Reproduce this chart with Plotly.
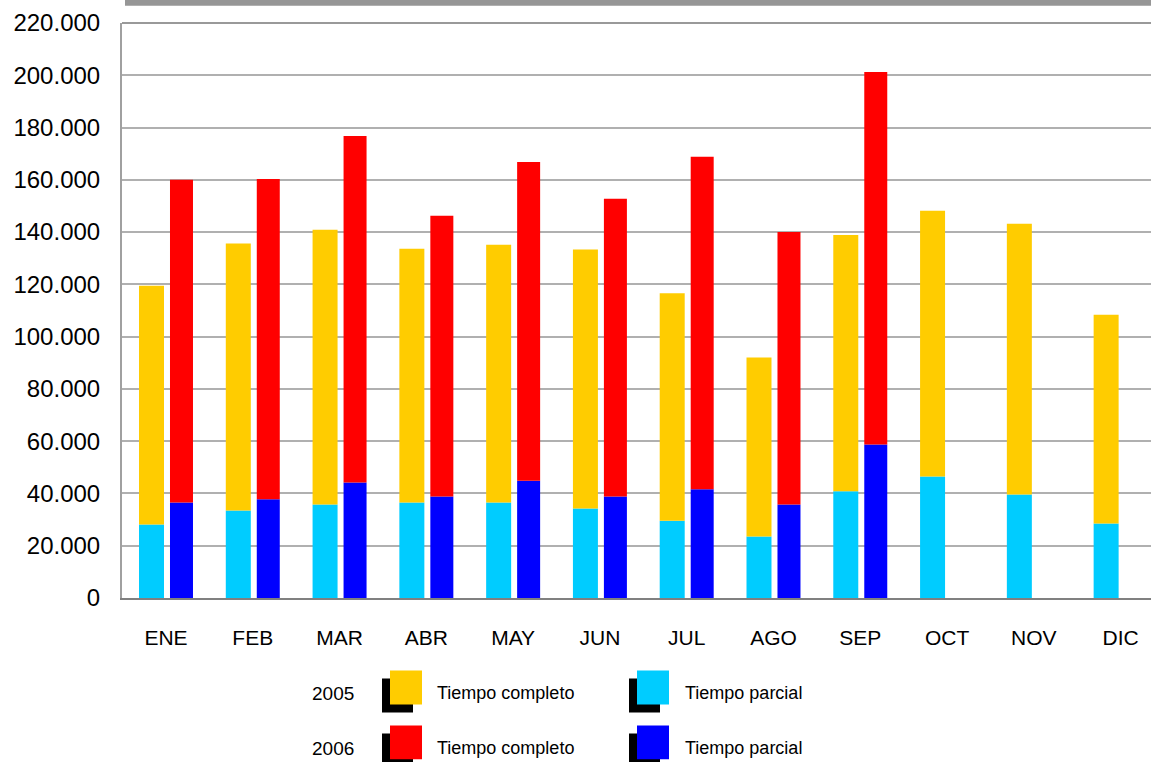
import plotly.graph_objects as go

months = ["ENE", "FEB", "MAR", "ABR", "MAY", "JUN", "JUL", "AGO", "SEP", "OCT", "NOV", "DIC"]

# 2005
parcial_2005 = [28100, 33500, 35800, 36500, 36500, 34200, 29600, 23500, 40800, 46500, 39600, 28500]
completo_2005 = [91400, 102100, 105100, 97100, 98700, 99100, 87000, 68500, 98100, 101700, 103600, 79900]
# 2006
parcial_2006 = [36500, 37800, 44200, 38800, 44900, 38800, 41600, 35800, 58700]
completo_2006 = [123500, 122500, 132600, 107500, 121900, 114000, 127200, 104200, 142600]

y_ticks = [0, 20000, 40000, 60000, 80000, 100000, 120000, 140000, 160000, 180000, 200000, 220000]

C_Y05, C_P05 = "#FFCC00", "#00CCFF"
C_Y06, C_P06 = "#FF0000", "#0000FF"

W, H = 1151, 762
L, T, B = 122, 23, 163.5
PW = W - L
PH = H - T - B

FONT = "Liberation Sans, Arial, sans-serif"


def px(x):
    return (x - L) / PW


def py(y):
    return (H - B - y) / PH


m06 = months[:len(parcial_2006)]

fig = go.Figure()
fig.add_trace(go.Bar(x=months, y=parcial_2005, offset=-0.311, width=0.288,
                     marker=dict(color=C_P05, line=dict(width=0)), name="2005 Tiempo parcial"))
fig.add_trace(go.Bar(x=months, y=completo_2005, base=parcial_2005, offset=-0.311, width=0.288,
                     marker=dict(color=C_Y05, line=dict(width=0)), name="2005 Tiempo completo"))
fig.add_trace(go.Bar(x=m06, y=parcial_2006, offset=0.046, width=0.265,
                     marker=dict(color=C_P06, line=dict(width=0)), name="2006 Tiempo parcial"))
fig.add_trace(go.Bar(x=m06, y=completo_2006, base=parcial_2006, offset=0.046, width=0.265,
                     marker=dict(color=C_Y06, line=dict(width=0)), name="2006 Tiempo completo"))

shapes = [
    # top grey band
    dict(type="rect", xref="paper", yref="paper", x0=px(125), x1=1.0, y0=py(5.7), y1=py(0),
         fillcolor="#969696", line=dict(width=0), layer="above"),
    # top border line
    dict(type="line", xref="paper", yref="paper", x0=0, x1=1, y0=1, y1=1,
         line=dict(color="#999999", width=2)),
]
annotations = []

legend_rows = [
    ("2005", C_Y05, C_P05, 694),
    ("2006", C_Y06, C_P06, 749),
]
for year, c_full, c_part, yc in legend_rows:
    annotations.append(dict(xref="paper", yref="paper", x=px(310), y=py(yc), text=year,
                            showarrow=False, xanchor="left", yanchor="middle",
                            font=dict(family=FONT, size=19, color="#000")))
    for (sx, tx, col, label) in [(382, 435, c_full, "Tiempo completo"), (629, 683, c_part, "Tiempo parcial")]:
        shapes.append(dict(type="rect", xref="paper", yref="paper",
                           x0=px(sx), x1=px(sx + 31), y0=py(yc + 19), y1=py(yc - 15),
                           fillcolor="#000000", line=dict(width=0)))
        shapes.append(dict(type="rect", xref="paper", yref="paper",
                           x0=px(sx + 8), x1=px(sx + 40), y0=py(yc + 11), y1=py(yc - 23),
                           fillcolor=col, line=dict(width=0)))
        annotations.append(dict(xref="paper", yref="paper", x=px(tx), y=py(yc), text=label,
                                showarrow=False, xanchor="left", yanchor="middle",
                                font=dict(family=FONT, size=18, color="#000")))

fig.update_layout(
    width=W, height=H,
    margin=dict(l=L, r=0, t=T, b=B, pad=0),
    barmode="overlay",
    showlegend=False,
    plot_bgcolor="#FFFFFF",
    paper_bgcolor="#FFFFFF",
    separators=",.",
    shapes=shapes,
    annotations=annotations,
    xaxis=dict(
        type="category",
        range=[-0.507, 11.35],
        showgrid=False,
        showline=True, linecolor="#808080", linewidth=2,
        ticks="", ticklabelstandoff=20,
        tickfont=dict(family=FONT, size=21, color="#000"),
        fixedrange=True,
    ),
    yaxis=dict(
        range=[0, 220000],
        tickvals=y_ticks,
        tickformat=",.0f",
        showgrid=True, gridcolor="#B0B0B0", gridwidth=2,
        zeroline=False,
        showline=True, linecolor="#A0A0A0", linewidth=2,
        ticks="", ticklabelstandoff=15,
        tickfont=dict(family=FONT, size=24, color="#000"),
        fixedrange=True,
    ),
)

fig.write_html(
    "out.html",
    config={"displayModeBar": False},
    post_script="document.body.style.margin='0';document.body.style.overflow='hidden';",
)
